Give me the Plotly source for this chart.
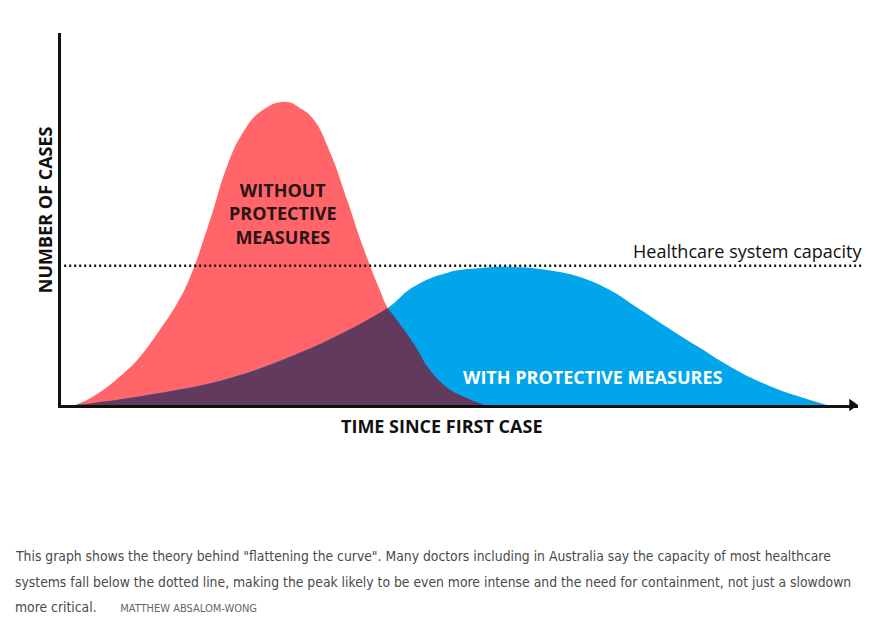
import plotly.graph_objects as go

# Time since first case (0-100) and number of cases (0-100)
red_time = [1.8, 4.0, 8.3, 10.3, 12.4, 14.6, 16.2, 18.7, 20.8, 22.8, 25.0, 28.1, 30.0,
            31.6, 33.8, 35.9, 37.9, 40.0, 41.0, 44.2, 46.3, 48.4, 50.9, 53.2]
red_cases = [0.0, 2.2, 9.4, 14.0, 20.2, 27.4, 34.4, 49.7, 64.0, 73.1, 78.8, 81.5, 79.8,
             77.0, 67.7, 55.1, 42.5, 30.9, 26.1, 16.7, 9.4, 4.8, 1.9, 0.0]

blue_time = [1.8, 4.0, 12.4, 20.8, 28.7, 35.4, 41.0, 44.2, 48.4, 52.6, 56.7, 61.0,
             65.1, 69.3, 71.8, 76.0, 80.2, 84.3, 88.6, 92.7, 96.1]
blue_cases = [0.0, 0.5, 3.2, 7.0, 12.9, 19.4, 26.1, 31.7, 35.5, 36.8, 37.1, 36.3,
              34.4, 30.4, 26.9, 21.0, 15.3, 9.9, 5.4, 2.2, 0.0]

capacity = 37.4
crossing = 41.0  # where the two curves meet

RED = '#FF6569'
BLUE = '#00A5EC'
PURPLE = '#623A5E'
FONT = 'Open Sans'


def area(x, y, color):
    return go.Scatter(x=x, y=y, mode='lines', fill='tozeroy',
                      line=dict(width=0, shape='spline', smoothing=1.3, color=color),
                      fillcolor=color, hoverinfo='skip')


fig = go.Figure()
fig.add_trace(area(red_time, red_cases, RED))
fig.add_trace(area(blue_time, blue_cases, BLUE))

# overlap: under the blue curve before the crossing, under the red one after it
left = [(t, c) for t, c in zip(blue_time, blue_cases) if t <= crossing]
right = [(t, c) for t, c in zip(red_time, red_cases) if t >= crossing]
fig.add_trace(area([p[0] for p in left], [p[1] for p in left], PURPLE))
fig.add_trace(area([p[0] for p in right], [p[1] for p in right], PURPLE))
# hide the seam between the two overlap pieces
fig.add_shape(type='line', x0=crossing, x1=crossing, y0=0, y1=right[0][1] - 1,
              line=dict(color=PURPLE, width=1.5))

# capacity line
fig.add_shape(type='line', xref='paper', yref='y', x0=0.004, x1=1.005,
              y0=capacity, y1=capacity,
              line=dict(color='#111111', width=2.5, dash='2px,3px'))
# arrow head on the time axis
fig.add_shape(type='path', xref='paper', yref='paper',
              path='M 0.989,-0.017 L 1.0,0 L 0.989,0.017 Z',
              fillcolor='#111111', line=dict(width=0))

bold = dict(family=FONT, size=18, color='#111111', weight='bold')
fig.add_annotation(text='NUMBER OF CASES', xref='paper', yref='paper', x=-0.02, y=0.524,
                   xanchor='center', yanchor='middle', textangle=-90, showarrow=False,
                   font=bold)
fig.add_annotation(text='TIME SINCE FIRST CASE', xref='paper', yref='paper', x=0.477, y=-0.0565,
                   xanchor='center', yanchor='middle', showarrow=False, font=bold)
fig.add_annotation(text='WITHOUT<br>PROTECTIVE<br>MEASURES', x=27.9, y=51.6,
                   xanchor='center', yanchor='middle', showarrow=False,
                   font=dict(bold, color='#2A1316'))
fig.add_annotation(text='WITH PROTECTIVE MEASURES', x=66.8, y=7.5,
                   xanchor='center', yanchor='middle', showarrow=False,
                   font=dict(bold, color='white'))
fig.add_annotation(text='Healthcare system capacity', xref='paper', yref='paper',
                   x=1.0075, y=0.414, xanchor='right', yanchor='middle', showarrow=False,
                   font=dict(family=FONT, size=18, color='#111111'))

caption = ['This graph shows the theory behind "flattening the curve". Many doctors including in Australia say the capacity of most healthcare',
           'systems fall below the dotted line, making the peak likely to be even more intense and the need for containment, not just a slowdown',
           'more critical.&nbsp;&nbsp;&nbsp;&nbsp;&nbsp; <span style="font-size:11px;color:#666666">MATTHEW ABSALOM-WONG</span>']
caption_y = [-0.406, -0.476, -0.543]
for line, y in zip(caption, caption_y):
    fig.add_annotation(text=line, xref='paper', yref='paper', x=-0.06, y=y,
                       xanchor='left', yanchor='middle', showarrow=False,
                       font=dict(family='DejaVu Sans Condensed', size=13.8, color='#4A4A4A'))

fig.update_xaxes(range=[0, 100], showline=True, linewidth=3, linecolor='#111111',
                 showgrid=False, zeroline=False, showticklabels=False, ticks='')
fig.update_yaxes(range=[0, 100], showline=True, linewidth=3, linecolor='#111111',
                 showgrid=False, zeroline=False, showticklabels=False, ticks='')
# page body has an 8px margin, so the figure is 8px smaller than the window
fig.update_layout(width=878, height=626, showlegend=False,
                  margin=dict(l=53, r=28, t=25, b=229),
                  plot_bgcolor='white', paper_bgcolor='white')

fig.write_html('out.html')
